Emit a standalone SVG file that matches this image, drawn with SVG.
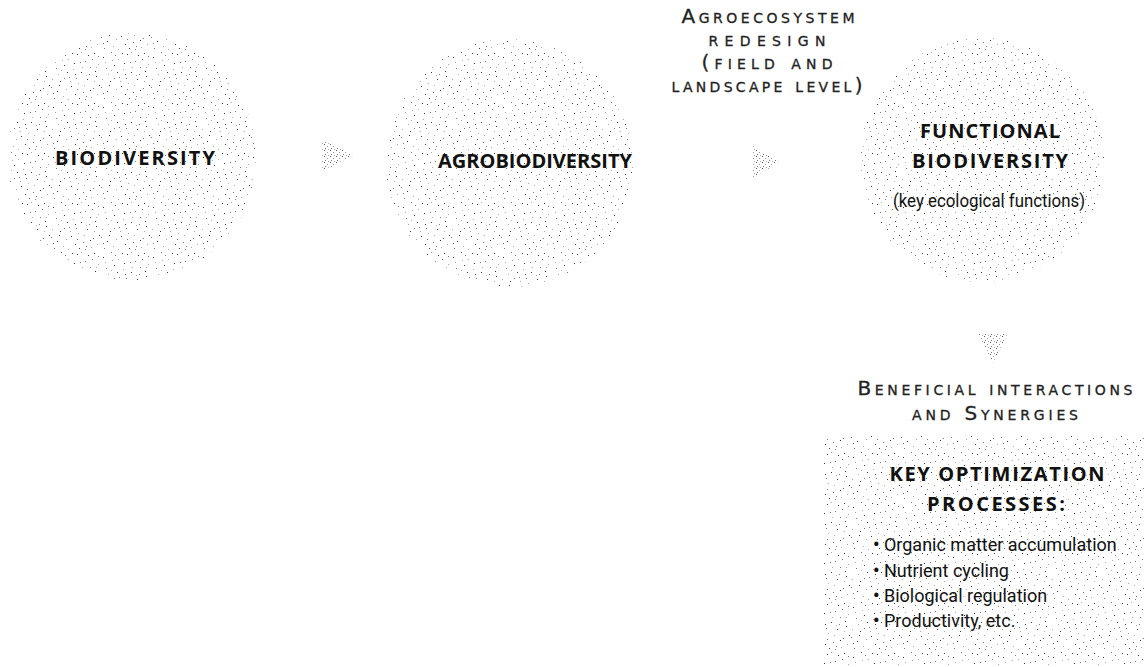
<svg xmlns="http://www.w3.org/2000/svg" width="1144" height="667" viewBox="0 0 1144 667">
<style>
.bold{font-family:"Open Sans","Liberation Sans",sans-serif;font-weight:700;font-size:20px;fill:#111;text-anchor:middle}
.sc{font-family:"DejaVu Sans","Liberation Sans",sans-serif;font-variant:small-caps;font-size:20px;fill:#222;stroke:#222;stroke-width:0.3;text-anchor:middle}
.body{font-family:Roboto,"Liberation Sans",sans-serif;font-size:18px;fill:#111}
.bul{font-weight:700}
</style>
<defs>
<pattern id="stip" width="50" height="50" patternUnits="userSpaceOnUse">
<g fill="#3a3a3a">
<rect x="3" y="7" width="1" height="1"/><rect x="27" y="4" width="1" height="1"/><rect x="44" y="3" width="1" height="1"/>
<rect x="14" y="15" width="1" height="1"/><rect x="31" y="22" width="1" height="1"/><rect x="46" y="26" width="1" height="1"/>
<rect x="10" y="31" width="1" height="1"/><rect x="37" y="29" width="1" height="1"/><rect x="7" y="41" width="1" height="1"/>
<rect x="25" y="44" width="1" height="1"/><rect x="49" y="35" width="1" height="1"/><rect x="21" y="36" width="1" height="1"/>
<rect x="38" y="5" width="1" height="1"/><rect x="17" y="22" width="1" height="1"/><rect x="45" y="21" width="1" height="1"/>
<rect x="29" y="48" width="1" height="1"/><rect x="22" y="3" width="1" height="1"/><rect x="24" y="13" width="1" height="1"/>
<rect x="9" y="35" width="1" height="1"/><rect x="40" y="40" width="1" height="1"/><rect x="25" y="24" width="1" height="1"/>
</g>
<g fill="#777">
<rect x="11" y="2" width="1" height="1"/><rect x="35" y="11" width="1" height="1"/><rect x="6" y="18" width="1" height="1"/>
<rect x="40" y="17" width="1" height="1"/><rect x="19" y="27" width="1" height="1"/><rect x="43" y="38" width="1" height="1"/>
<rect x="33" y="42" width="1" height="1"/><rect x="4" y="48" width="1" height="1"/><rect x="30" y="12" width="1" height="1"/>
<rect x="26" y="28" width="1" height="1"/><rect x="1" y="37" width="1" height="1"/><rect x="39" y="24" width="1" height="1"/>
<rect x="36" y="46" width="1" height="1"/><rect x="15" y="5" width="1" height="1"/><rect x="42" y="9" width="1" height="1"/>
<rect x="27" y="39" width="1" height="1"/><rect x="3" y="43" width="1" height="1"/><rect x="48" y="6" width="1" height="1"/>
<rect x="35" y="49" width="1" height="1"/><rect x="14" y="28" width="1" height="1"/>
</g>
<g fill="#aaa">
<rect x="18" y="9" width="1" height="1"/><rect x="48" y="14" width="1" height="1"/><rect x="23" y="19" width="1" height="1"/>
<rect x="2" y="29" width="1" height="1"/><rect x="28" y="33" width="1" height="1"/><rect x="16" y="39" width="1" height="1"/>
<rect x="41" y="47" width="1" height="1"/><rect x="13" y="46" width="1" height="1"/><rect x="8" y="24" width="1" height="1"/>
<rect x="34" y="35" width="1" height="1"/><rect x="12" y="10" width="1" height="1"/><rect x="47" y="44" width="1" height="1"/>
<rect x="5" y="12" width="1" height="1"/><rect x="32" y="17" width="1" height="1"/><rect x="20" y="31" width="1" height="1"/>
<rect x="36" y="25" width="1" height="1"/><rect x="44" y="31" width="1" height="1"/><rect x="18" y="49" width="1" height="1"/>
<rect x="31" y="2" width="1" height="1"/><rect x="11" y="20" width="1" height="1"/><rect x="46" y="17" width="1" height="1"/>
</g>
</pattern>
<pattern id="stipd" width="6" height="6" patternUnits="userSpaceOnUse">
<rect x="0" y="0" width="1" height="1" fill="#555"/><rect x="3" y="2" width="1" height="1" fill="#999"/><rect x="1" y="4" width="1" height="1" fill="#777"/><rect x="4" y="5" width="1" height="1" fill="#aaa"/>
</pattern>
</defs>

<g id="biodiversity">
<circle cx="132" cy="157" r="124" fill="url(#stip)"/>
<text class="bold" x="135" y="165" textLength="160" lengthAdjust="spacing">BIODIVERSITY</text>
</g>

<g id="agrobiodiversity">
<circle cx="510" cy="163" r="124" fill="url(#stip)"/>
<text class="bold" x="535" y="168" textLength="194" lengthAdjust="spacing">AGROBIODIVERSITY</text>
</g>

<g id="functional">
<circle cx="982" cy="160" r="122" fill="url(#stip)"/>
<text class="bold" x="990" y="138" textLength="140" lengthAdjust="spacing">FUNCTIONAL</text>
<text class="bold" x="990" y="168" textLength="156" lengthAdjust="spacing">BIODIVERSITY</text>
<text class="body" x="989" y="207" text-anchor="middle" font-size="16" textLength="192" lengthAdjust="spacingAndGlyphs">(key ecological functions)</text>
</g>

<g id="redesign-label">
<text class="sc" x="768" y="23" textLength="173" lengthAdjust="spacing">Agroecosystem</text>
<text class="sc" x="767" y="46" textLength="117" lengthAdjust="spacing">redesign</text>
<text class="sc" x="767" y="69" textLength="131" lengthAdjust="spacing">(field and</text>
<text class="sc" x="767" y="92" textLength="191" lengthAdjust="spacing">landscape level)</text>
</g>

<g id="interactions-label">
<text class="sc" x="995" y="395" textLength="275" lengthAdjust="spacing">Beneficial interactions</text>
<text class="sc" x="995" y="420" textLength="166" lengthAdjust="spacing">and Synergies</text>
</g>

<g id="processes">
<rect x="824" y="436" width="320" height="229" fill="url(#stip)"/>
<text class="bold" x="997" y="481" textLength="215" lengthAdjust="spacing">KEY OPTIMIZATION</text>
<text class="bold" x="996" y="511" textLength="138" lengthAdjust="spacing">PROCESSES:</text>
<g class="body">
<text x="873" y="551"><tspan class="bul">•</tspan> Organic matter accumulation</text>
<text x="873" y="577"><tspan class="bul">•</tspan> Nutrient cycling</text>
<text x="873" y="602"><tspan class="bul">•</tspan> Biological regulation</text>
<text x="873" y="627"><tspan class="bul">•</tspan> Productivity, etc.</text>
</g>
</g>

<g id="connectors" fill="url(#stipd)">
<polygon points="322,140 322,172 353,155"/>
<polygon points="753,146 753,178 779,162"/>
<polygon points="977,333 1008,333 993,363"/>
</g>
</svg>
